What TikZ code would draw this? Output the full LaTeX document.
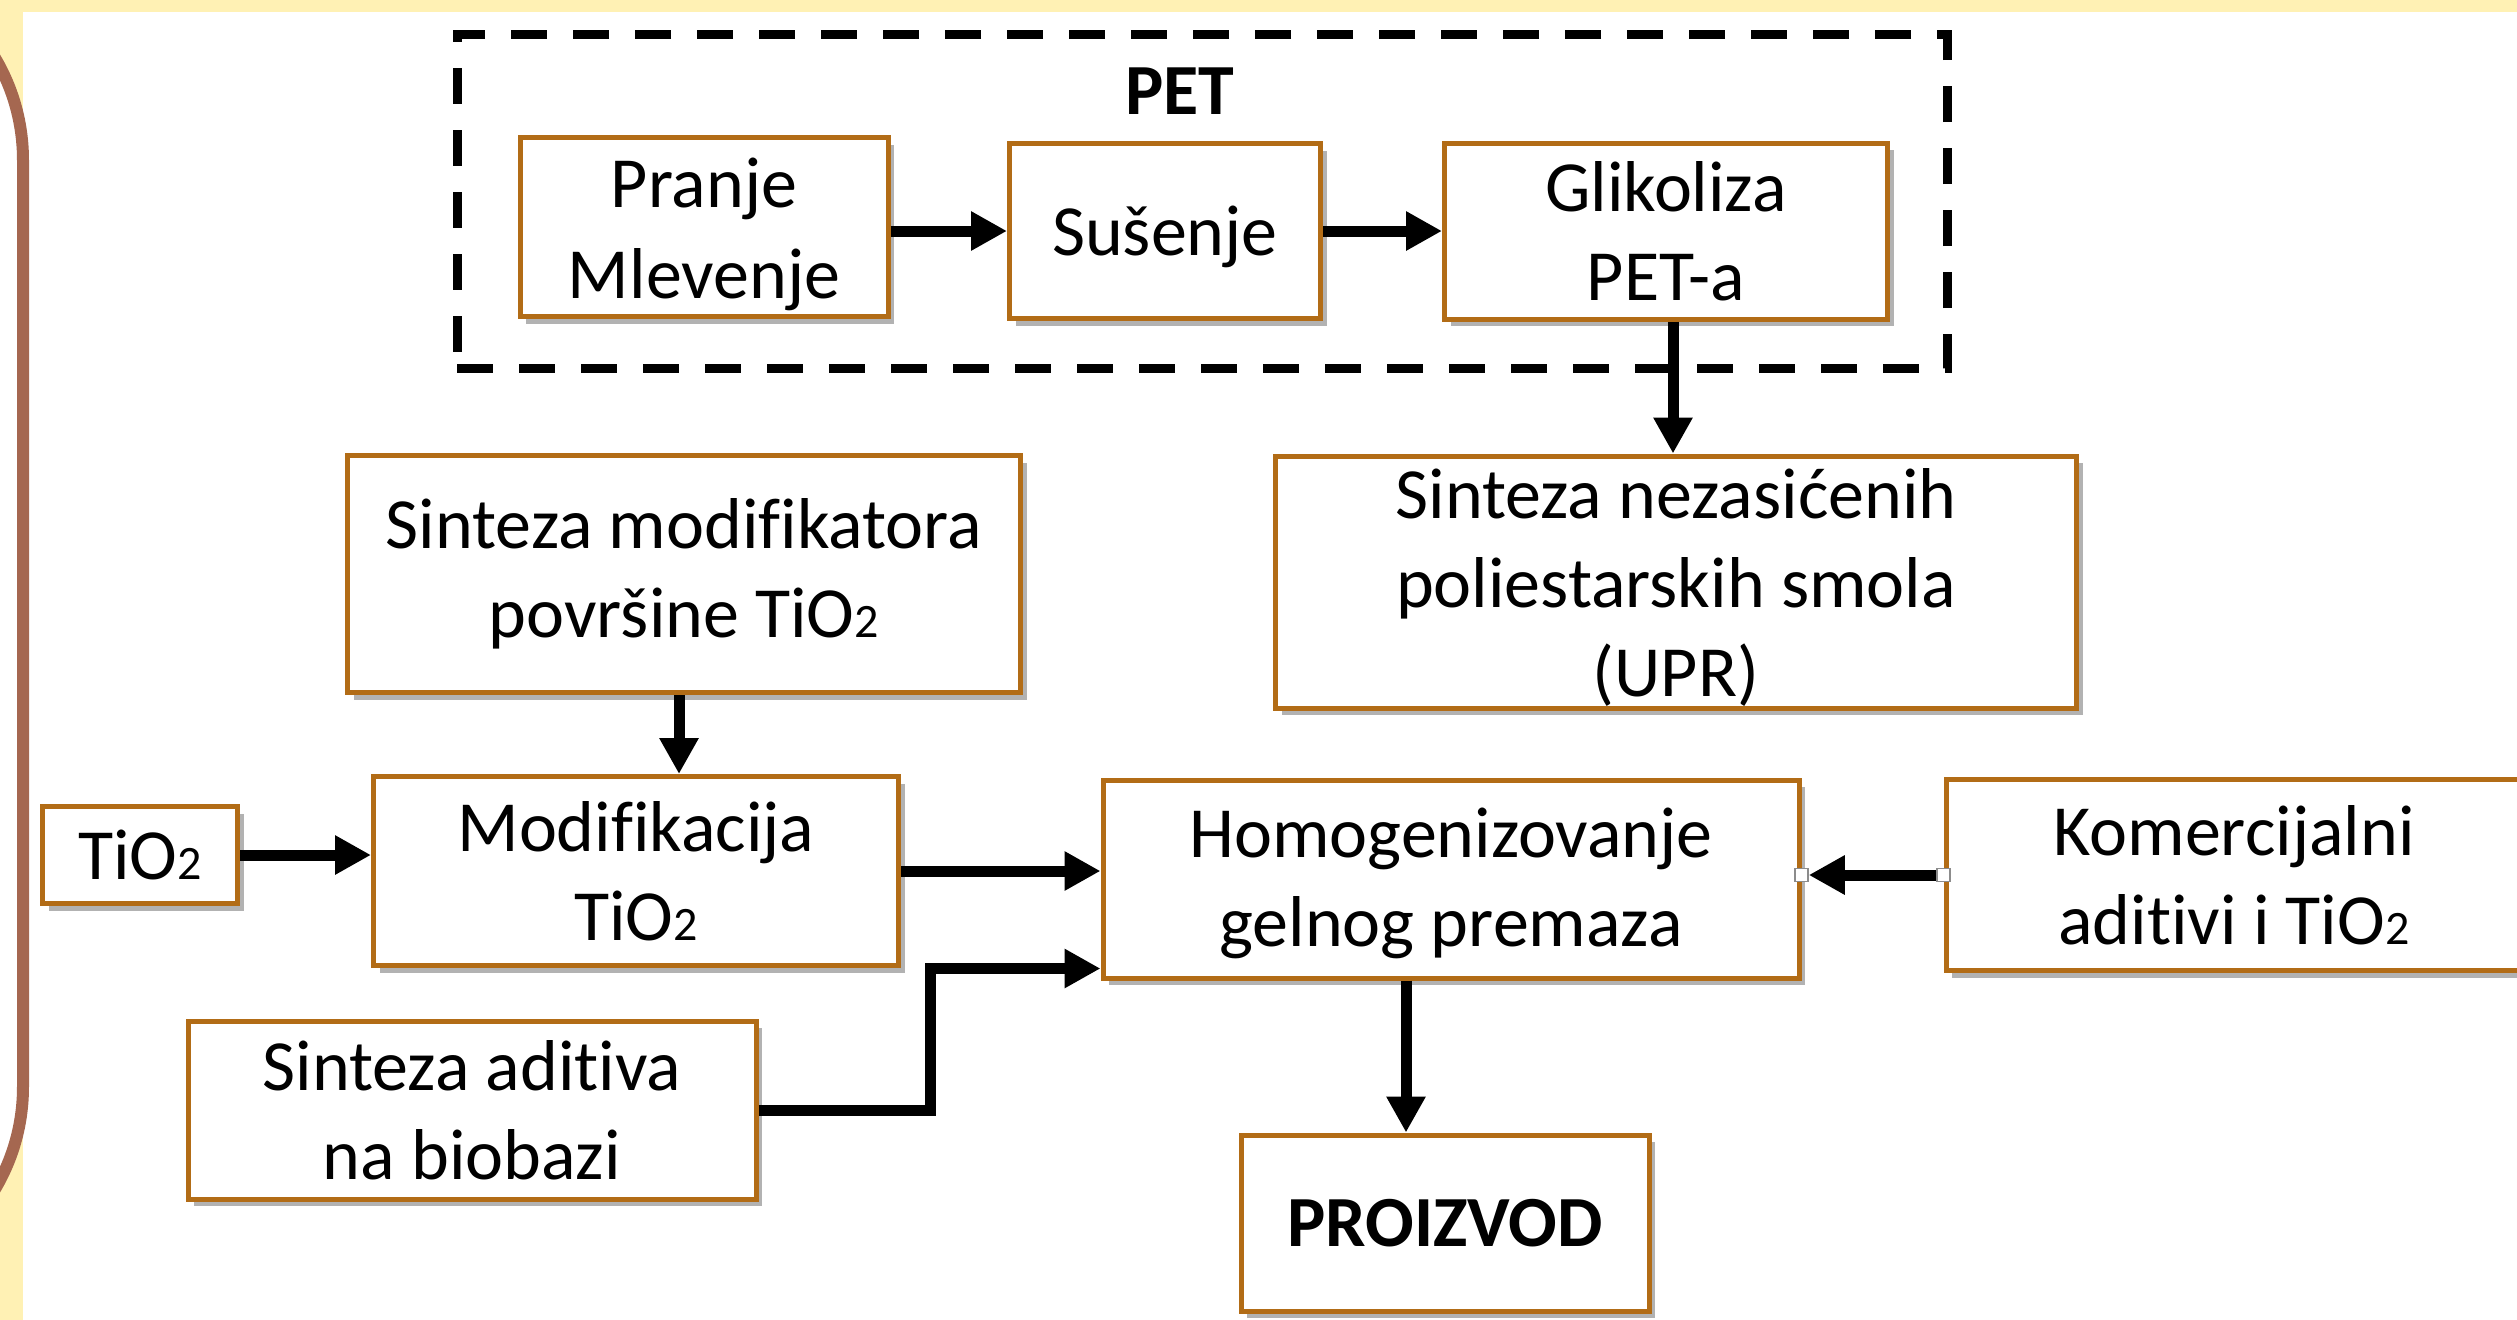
\documentclass[tikz,border=0pt]{standalone}
\usepackage{fontspec}
\setmainfont{Carlito}[Ligatures={NoCommon}]
\usetikzlibrary{arrows.meta,shadows,calc}
\definecolor{boxc}{RGB}{178,108,22}
\definecolor{panelc}{RGB}{165,103,80}
\definecolor{bgy}{RGB}{255,241,180}
\newcommand\tiotwo{TiO{\fontsize{48}{48}\selectfont 2}}
\newcommand\topstrut[1]{\rule{0pt}{#1}}
\begin{document}
\begin{tikzpicture}[x=1pt,y=-1pt,
  box/.style={draw=boxc, line width=5pt, fill=white, align=center, inner sep=0pt,
    font=\fontsize{72}{89}\selectfont,
    drop shadow={shadow xshift=6pt, shadow yshift=-7pt, opacity=0.3, fill=black}},
  arr/.style={line width=11pt, -{Triangle[length=36pt,width=37pt]}},
  handle/.style={draw=black!45, fill=white, line width=1.5pt, minimum size=13pt, inner sep=0pt}]
\clip (0,0) rectangle (2517,1320);
\fill[bgy] (0,0) rectangle (2517,1320);
\fill[white] (23,12) rectangle (2517,1320);
\draw[panelc, fill=white, line width=12pt, rounded corners=200pt] (-600,-40) rectangle (23,1287);

% PET group
\node[draw, line width=9pt, dash pattern=on 36pt off 26pt, minimum width=1490pt, minimum height=334pt, inner sep=0pt] (pet) at (1202,201) {};
\node[font=\fontsize{72}{89}\selectfont\bfseries] (petlabel) at (1180,91) {PET};

% boxes
\node[box, minimum width=368pt, minimum height=179pt] (A) at (704,227) {\topstrut{64pt}Pranje\\[2pt]Mlevenje};
\node[box, minimum width=311pt, minimum height=175pt] (B) at (1165,231) {\topstrut{62pt}Sušenje};
\node[box, minimum width=443pt, minimum height=176pt] (C) at (1666,231) {Glikoliza\\PET-a};
\node[box, minimum width=801pt, minimum height=252pt] (D) at (1676,582) {\topstrut{60pt}Sinteza nezasićenih\\poliestarskih smola\\(UPR)};
\node[box, minimum width=673pt, minimum height=237pt] (E) at (684,574) {Sinteza modifikatora\\površine \tiotwo};
\node[box, minimum width=195pt, minimum height=97pt] (F) at (140,855) {\tiotwo};
\node[box, minimum width=525pt, minimum height=189pt] (G) at (636,871) {Modifikacija\\\tiotwo};
\node[box, minimum width=696pt, minimum height=198pt] (H) at (1451,879) {\topstrut{58pt}Homogenizovanje\\gelnog premaza};
\node[box, minimum width=576pt, minimum height=191pt] (I) at (2234,875) {Komercijalni\\aditivi i \tiotwo};
\node[box, minimum width=568pt, minimum height=178pt] (J) at (472,1110) {Sinteza aditiva\\na biobazi};
\node[box, minimum width=408pt, minimum height=176pt, font=\fontsize{72}{89}\selectfont\bfseries] (K) at (1445,1223) {PROIZVOD};

% connectors
\draw[arr] (A.east |- B.west) -- (B.west);
\draw[arr] (B.east) -- (B.east -| C.west);
\coordinate (c1) at ($(C.south)+(7,0)$);
\draw[arr] (c1) -- (c1 |- D.north);
\coordinate (e1) at ($(E.south)+(-5,0)$);
\draw[arr] (e1) -- (e1 |- G.north);
\draw[arr] (F.east) -- (F.east -| G.west);
\draw[arr] (G.east) -- (G.east -| H.west);
\coordinate (hin) at ($(H.south west)+(0,-12)$);
\draw[arr] (J.east) -- ++(172,0) |- (hin);
\node[handle] (h2) at (I.west -| H.east) {};
\draw[arr] (I.west) -- (h2.east);
\node[handle] (h1) at (I.west) {};
\coordinate (k1) at ($(H.south)+(-45,0)$);
\draw[arr] (k1) -- (k1 |- K.north);
\end{tikzpicture}
\end{document}
